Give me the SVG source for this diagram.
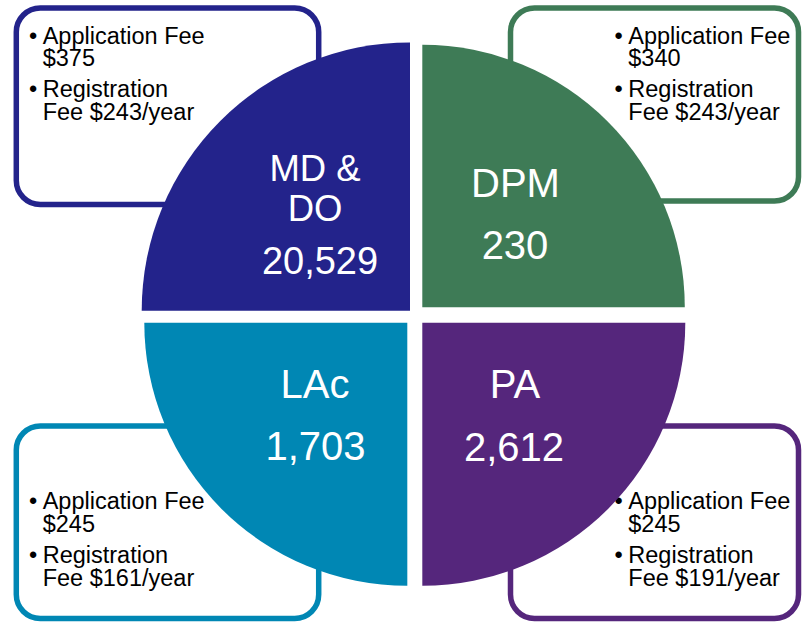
<svg xmlns="http://www.w3.org/2000/svg" width="802" height="623" viewBox="0 0 802 623">
<style>
.box{fill:#ffffff;stroke-width:5.5}
.fee{font-family:"Liberation Sans",Arial,sans-serif;font-size:23.5px;fill:#000000}
.big{font-family:"Liberation Sans",Arial,sans-serif;fill:#ffffff;text-anchor:middle}
</style>
<rect width="802" height="623" fill="#ffffff"/>
<g id="box-md">
<rect class="box" x="16.3" y="8" width="302.4" height="196.5" rx="24" stroke="#23238b"/>
<text class="fee"><tspan x="29" y="43.5">•</tspan><tspan x="42.7" y="43.5">Application Fee</tspan><tspan x="42.7" y="66">$375</tspan><tspan x="29" y="96.5">•</tspan><tspan x="42.7" y="96.5">Registration</tspan><tspan x="42.7" y="119.5">Fee $243/year</tspan></text>
</g>
<g id="box-dpm">
<rect class="box" x="510.5" y="8" width="288" height="193" rx="24" stroke="#3e7b56"/>
<text class="fee"><tspan x="614.5" y="43.5">•</tspan><tspan x="628.3" y="43.5">Application Fee</tspan><tspan x="628.3" y="66">$340</tspan><tspan x="614.5" y="96.5">•</tspan><tspan x="628.3" y="96.5">Registration</tspan><tspan x="628.3" y="119.5">Fee $243/year</tspan></text>
</g>
<g id="box-lac">
<rect class="box" x="16.3" y="426" width="302.4" height="192.5" rx="24" stroke="#0087b4"/>
<text class="fee"><tspan x="29" y="509">•</tspan><tspan x="42.7" y="509">Application Fee</tspan><tspan x="42.7" y="532">$245</tspan><tspan x="29" y="562.5">•</tspan><tspan x="42.7" y="562.5">Registration</tspan><tspan x="42.7" y="586">Fee $161/year</tspan></text>
</g>
<g id="box-pa">
<rect class="box" x="510.5" y="426" width="288" height="192.5" rx="24" stroke="#55267c"/>
<text class="fee"><tspan x="614.5" y="509">•</tspan><tspan x="628.3" y="509">Application Fee</tspan><tspan x="628.3" y="532">$245</tspan><tspan x="614.5" y="562.5">•</tspan><tspan x="628.3" y="562.5">Registration</tspan><tspan x="628.3" y="586">Fee $191/year</tspan></text>
</g>
<g id="q-md">
<path d="M410,310.7 L141.7,310.7 A268.3,268.3 0 0 1 410,42.4 Z" fill="#23238b"/>
<text class="big" font-size="36.5"><tspan x="315" y="180.7">MD &amp;</tspan><tspan x="315" y="221">DO</tspan></text>
<text class="big" font-size="38" x="320" y="274">20,529</text>
</g>
<g id="q-dpm">
<path d="M422.3,307.3 L422.3,44.8 A262.5,262.5 0 0 1 684.8,307.3 Z" fill="#3e7b56"/>
<text class="big" font-size="40" x="515.5" y="197">DPM</text>
<text class="big" font-size="40" x="515" y="259">230</text>
</g>
<g id="q-lac">
<path d="M407.3,322.7 L407.3,585.7 A263,263 0 0 1 144.3,322.7 Z" fill="#0087b4"/>
<text class="big" font-size="40" x="315" y="398">LAc</text>
<text class="big" font-size="40" x="315.5" y="460">1,703</text>
</g>
<g id="q-pa">
<path d="M422.3,322.7 L685.3,322.7 A263,263 0 0 1 422.3,585.7 Z" fill="#55267c"/>
<text class="big" font-size="40" x="515" y="398">PA</text>
<text class="big" font-size="40" x="514" y="461">2,612</text>
</g>
<g id="connectors"></g>
</svg>
